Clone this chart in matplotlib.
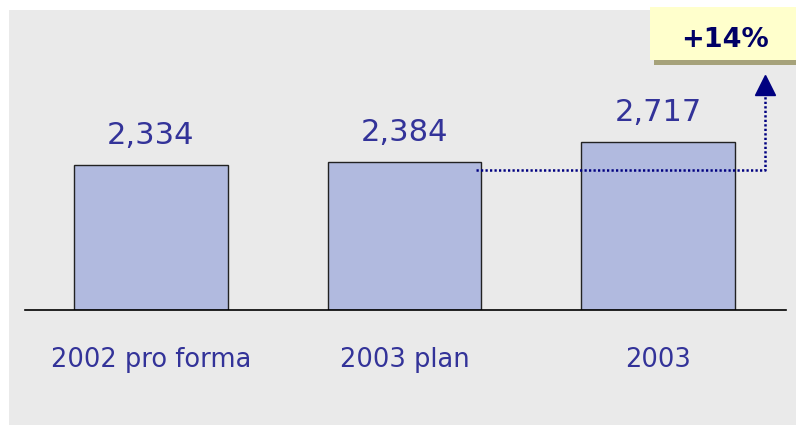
import matplotlib.pyplot as plt
import matplotlib.patches as patches

categories = ['2002 pro forma', '2003 plan', '2003']
values = [2334, 2384, 2717]
value_labels = ['2,334', '2,384', '2,717']
growth_label = '+14%'

# dotted guide from the plan bar up to the growth box
guide_level = 2258
guide_top = 3470
arrow_tip = 3629

W, H = 796, 425
fig = plt.figure(figsize=(W / 100, H / 100), dpi=100, facecolor='white')

# light gray panel
fig.patches.append(patches.Rectangle((9 / W, 0), (W - 9) / W, (H - 10) / H,
                                     transform=fig.transFigure, facecolor='#eaeaea',
                                     edgecolor='none', zorder=-1))

ax = fig.add_axes([25 / W, (H - 310) / H, (786 - 25) / W, 300 / H])
ax.set_zorder(1)
ax.set_facecolor('none')
x = range(len(categories))
ax.bar(x, values, width=0.607, color='#b1badf', edgecolor='#222222', linewidth=1.0, zorder=2)
ax.set_xlim(-0.497, 2.505)
ax.set_ylim(0, 300 / 0.062)

for s in ['top', 'left', 'right']:
    ax.spines[s].set_visible(False)
ax.spines['bottom'].set_color('black')
ax.spines['bottom'].set_linewidth(1.2)
ax.set_yticks([])
ax.set_xticks([])

for i, (v, lab) in enumerate(zip(values, value_labels)):
    ax.annotate(lab, (i, v), xytext=(0, 15), textcoords='offset points',
                ha='center', va='baseline', fontsize=22, color='#333399')
    ax.text(i, -57 / 300, categories[i], transform=ax.get_xaxis_transform(),
            ha='center', va='baseline', fontsize=18.5, color='#333399')

gx0, gx1 = 1.282, 2.422
ax.plot([gx0, gx1, gx1], [guide_level, guide_level, guide_top], color='#000080',
        lw=1.8, linestyle=(0, (0.9, 0.9)), zorder=3)
ax.plot([gx1], [arrow_tip], marker='^', markersize=15, color='#000080',
        linestyle='none', zorder=3, clip_on=False)

# growth box with shadow
fig.patches.append(patches.Rectangle((654 / W, (H - 65) / H), (W - 654) / W, 56 / H,
                                     transform=fig.transFigure, facecolor='#a6a27a',
                                     edgecolor='none', zorder=2))
fig.patches.append(patches.Rectangle((650 / W, (H - 60) / H), (W - 650) / W, 53 / H,
                                     transform=fig.transFigure, facecolor='#ffffcc',
                                     edgecolor='none', zorder=2))
fig.text(725 / W, (H - 47) / H, growth_label, ha='center', va='baseline',
         fontsize=19.5, fontweight='bold', color='#000066', zorder=3)

fig.savefig('out.png', dpi=100)
